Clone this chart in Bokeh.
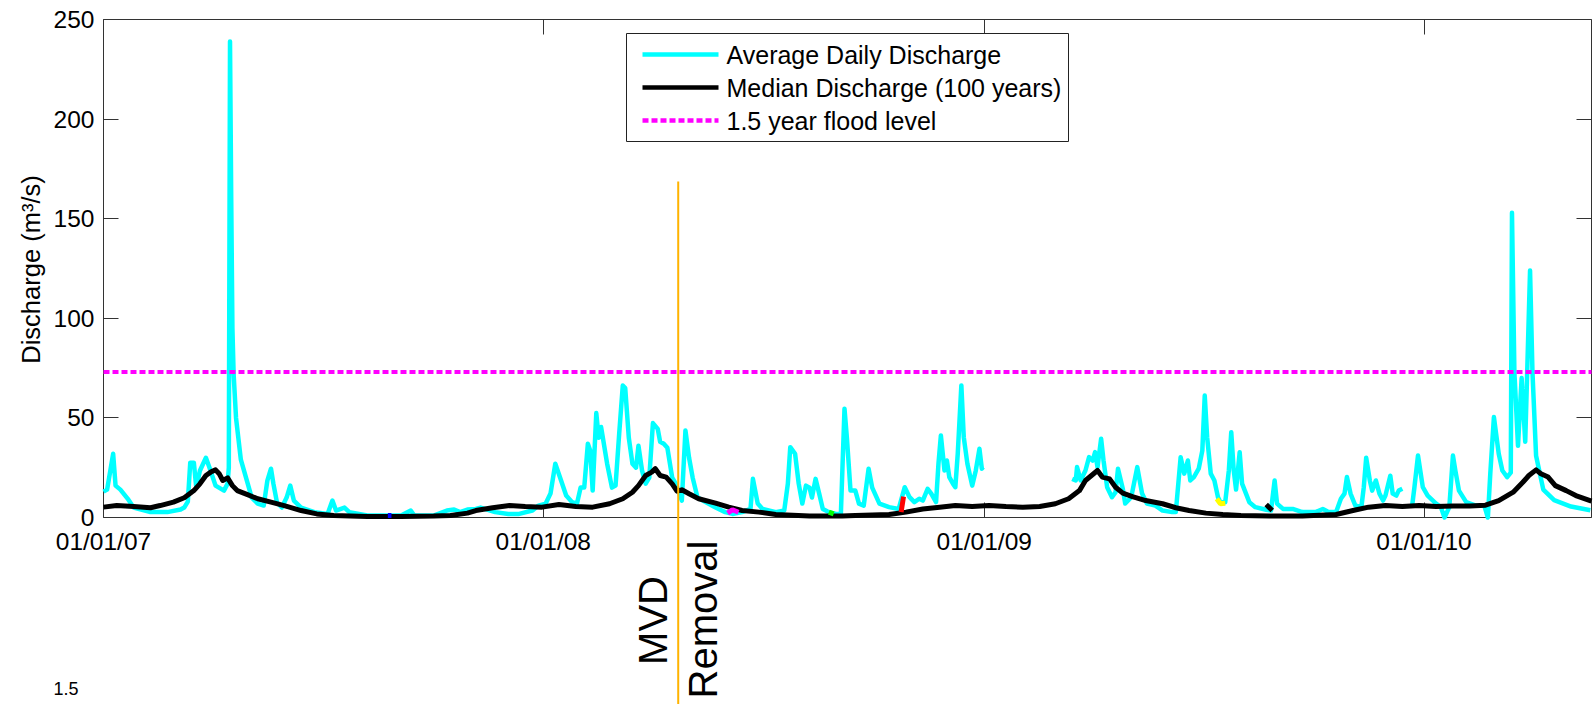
import math
import pandas as pd
from bokeh.plotting import figure
from bokeh.models import Range1d, FixedTicker, DatetimeTickFormatter, DatetimeAxis, LinearAxis
from bokeh.core.properties import value
from bokeh.embed import file_html
from bokeh.resources import INLINE

NAN = float("nan")

# ---------------- data ----------------
record_start = "2007-01-01"
record_end = "2010-05-20"
x_tick_dates = ["2007-01-01", "2008-01-01", "2009-01-01", "2010-01-01"]
y_ticks = [0, 50, 100, 150, 200, 250]
y_max = 250
flood_level = 73.0
removal_date = "2008-04-22"

# days since 2007-01-01, average daily discharge (m3/s)
cyan_day = [0, 3, 8, 10, 14, 20, 25, 39, 53, 64, 67, 70, 72, 75, 77, 80, 85, 88, 93, 100,
            103, 104, 105, 106, 107, 108, 110, 114, 119, 123, 128, 133, 136, 139, 141, 144, 148, 152, 155, 158,
            164, 175, 186, 190, 193, 200, 204, 219, 247, 255, 258, 274, 285, 291, 296, 302, 309, 313, 325, 336,
            345, 356, 361, 367, 371, 375, 379, 384, 389, 393, 396, 399, 402, 404, 406, 409, 411, 413, 418, 422,
            425, 428, 431, 433, 436, 439, 442, 444, 447, 450, 453, 456, 460, 462, 465, 468, 472, 475, 478, 480,
            483, 486, 489, 493, 500, 508, 516, 522, 530, 537, 539, 543, 547, 558, 565, 568, 570, 574, 577, 580,
            583, 586, 588, 591, 594, 597, 602, 608, 612, 615, 617, 620, 624, 627, 631, 635, 638, 644, 652, 660,
            665, 669, 673, 677, 680, 684, 687, 691, 693, 695, 698, 700, 702, 705, 707, 709, 712, 714, 717, 721,
            724, 727, 729, 730, 760, 804, 807, 808, 811, 815, 818, 821, 823, 825, 828, 830, 833, 837, 840, 842,
            846, 848, 853, 858, 862, 866, 873, 879, 887, 890, 894, 897, 900, 902, 905, 909, 912, 914, 916, 919,
            922, 925, 927, 931, 934, 936, 938, 940, 943, 945, 951, 956, 965, 969, 972, 974, 979, 987, 995, 1006,
            1012, 1017, 1023, 1027, 1030, 1032, 1035, 1039, 1044, 1046, 1048, 1051, 1053, 1056, 1059, 1062, 1064, 1068, 1070, 1073,
            1075, 1078, 1082, 1086, 1088, 1091, 1095, 1099, 1106, 1110, 1113, 1117, 1120, 1122, 1125, 1131, 1139, 1146, 1149, 1151,
            1154, 1158, 1161, 1165, 1168, 1169, 1171, 1174, 1177, 1180, 1184, 1186, 1189, 1195, 1204, 1218, 1234]
cyan_q = [13, 14, 32, 16, 14, 9.5, 5, 2.7, 2.7, 4, 5, 8, 27.5, 27.5, 15, 23.5, 30, 25, 16, 13.5,
          17, 25, 239, 160, 95, 72, 50, 29, 18.5, 10, 7, 6, 18.5, 24.5, 17, 7.5, 5, 10, 16, 8.5,
          5, 2.7, 1.8, 8.5, 3.5, 5, 2.7, 1, 1, 3.5, 1, 1, 3.5, 4, 2.7, 4, 4.3, 5, 2.7, 1.8,
          1.8, 3.5, 6, 7, 12, 27, 20, 11, 7.7, 7, 15, 15, 37, 33.5, 13.5, 52.4, 40, 45.4, 27, 15,
          16, 42, 66.3, 65, 40, 27, 25, 36, 23.5, 17, 20, 47.4, 44.5, 38, 37, 35, 20, 17, 12, 8.5,
          43.7, 30, 20, 10, 7.7, 5, 2.7, 1.8, 2.7, 4.3, 19.4, 7, 4.3, 2.7, 3.5, 17, 35.3, 32, 17, 7,
          16, 15, 10, 19.4, 12, 4.3, 2.7, 1.8, 1.8, 54.6, 40, 13.5, 13.5, 7, 6, 24.5, 15, 7, 5.2, 4.3,
          15.2, 10.2, 7.7, 9.4, 8.5, 14.4, 12, 7.7, 27, 41.2, 23.6, 28.6, 20.3, 17, 15.2, 32, 66.3, 40.3, 27, 16,
          23.6, 34.5, 24.5, 25.3, NAN, 19.4, 18.6, 25.3, 18.6, 23.6, 30.3, 28.6, 32.8, 25.3, 39.5, 28.6, 15.2, 10.2, 12.7, 24.5,
          14.4, 7, 10.2, 25.3, 12, 7, 6, 3.5, 2.7, 2.7, 30.3, 22, 28.6, 18.6, 20.3, 24.5, 33.6, 61.2, 40.3, 22,
          18.6, 10.2, 7.7, 7.7, 23.6, 42.8, 24, 14, 32.8, 17, 7.7, 5.2, 3.9, 3.5, 18.6, 7, 4.3, 4.3, 2.7, 2.7,
          4.3, 2.7, 2.7, 9.4, 12, 20.3, 12, 6, 5.2, 15.2, 30, 18.6, 13.5, 18.6, 12, 8.5, 11, 21, 12, 11,
          13.5, 14.4, NAN, 5.2, 15, 31.1, 15.2, 11, 7, 5.2, 0, 5.2, 31.1, 23.6, 13.5, 7.7, 6, 6, 0, 22,
          50.4, 32, 23.6, 20.3, 22.5, 153, 73, 36, 70, 38, 124, 73, 31, 14, 8.7, 5.5, 3.6]

# days since 2007-01-01, median discharge over 100 years (m3/s)
median_day = [0, 11, 25, 39, 47, 58, 67, 75, 80, 85, 89, 93, 96, 99, 103, 107, 111, 119, 128, 139,
              150, 164, 177, 191, 219, 247, 274, 288, 302, 309, 323, 337, 350, 364, 378, 392, 406, 420, 431, 439,
              444, 450, 455, 458, 462, 467, 472, 476, 480, 486, 494, 508, 519, 530, 544, 558, 586, 613, 624, 652,
              666, 680, 694, 707, 721, 735, 749, 763, 777, 790, 801, 810, 815, 821, 825, 829, 835, 840, 846, 854,
              865, 879, 890, 901, 915, 929, 944, 968, 995, 1023, 1037, 1050, 1064, 1078, 1092, 1106, 1120, 1134, 1147, 1158,
              1170, 1178, 1183, 1189, 1193, 1199, 1205, 1214, 1222, 1235]
median_q = [5.2, 6, 5.5, 4.9, 6, 7.7, 9.9, 13.5, 16.9, 21.1, 22.8, 23.9, 22, 18.6, 19.9, 16, 13.5, 11.6, 9.4, 7.7,
            6, 3.5, 1.8, 1, 0.5, 0.5, 0.7, 1, 2.2, 3.5, 4.9, 6, 5.5, 5.2, 6.5, 5.5, 5.2, 6.9, 9.4, 12.7,
            16, 21.1, 22.8, 24.5, 21.1, 20.3, 16.9, 13.2, 13.9, 11.9, 9.4, 7.2, 5.2, 3.5, 2.7, 1.5, 0.8, 0.7, 1, 1.5,
            2.7, 4.3, 5.2, 6, 5.5, 6, 5.5, 5.2, 5.5, 6.9, 9.4, 13.5, 18.6, 21.6, 23.6, 20.3, 19.4, 15.2, 12.2, 10.5,
            8.5, 6.9, 4.9, 3.5, 2.2, 1.5, 1, 0.7, 0.7, 1.5, 3.5, 5.2, 6, 5.5, 6, 5.5, 5.8, 5.8, 6.2, 8.5,
            12.7, 17.7, 21.1, 23.9, 22, 20.3, 16, 13.5, 11, 8.2]

# short coloured segments (days since 2007-01-01, m3/s)
blue_day, blue_q = [236, 239], [1.0, 1.0]
magenta_day, magenta_q = [518, 522, 527], [2.2, 3.9, 2.6]
green_day, green_q = [602, 606], [2.7, 1.8]
red_day, red_q = [662, 664], [2.7, 10.5]
yellow_day, yellow_q = [924, 927, 931], [9.4, 6.9, 7.2]
black_day, black_q = [965, 970], [6.5, 3.5]

assert len(cyan_day) == len(cyan_q)
assert len(median_day) == len(median_q)

# ---------------- geometry (page pixels) ----------------
FONT = "Liberation Sans"
W, H = 1593, 704
M = 0                                      # canvas origin on the page
BOX_L, BOX_R, BOX_T, BOX_B = 103, 1591, 19, 517

DAY = 86400000.0
def to_ms(s):
    return pd.Timestamp(s).value / 1e6

t0, t1 = to_ms(record_start), to_ms(record_end)
msp = (t1 - t0) / (BOX_R - BOX_L)
upp = y_max / (BOX_B - BOX_T)

def X(px):
    return t0 + (px - BOX_L) * msp

def Y(py):
    return (BOX_B - py) * upp

def days(ds):
    return [t0 + d * DAY for d in ds]

p = figure(width=W, height=H, x_axis_type="datetime",
           x_range=Range1d(X(M), X(M + W)), y_range=Range1d(Y(M + H), Y(M)),
           output_backend="svg", toolbar_location=None, min_border=0,
           background_fill_color="white", border_fill_color="white")
p.outline_line_color = None
p.grid.visible = False

xt = FixedTicker(ticks=[to_ms(d) for d in x_tick_dates])
yt = FixedTicker(ticks=y_ticks)
f = "%m/%d/%y"
fmt = DatetimeTickFormatter(microseconds=f, milliseconds=f, seconds=f, minsec=f, minutes=f,
                            hourmin=f, hours=f, days=f, months=f, years=f)

def style(ax, labels=True):
    ax.axis_line_color = None
    ax.major_tick_in = 15
    ax.major_tick_out = 0
    ax.major_tick_line_color = "#333333"
    ax.major_tick_line_width = 1
    ax.minor_tick_line_color = None
    ax.major_label_text_font = FONT
    ax.major_label_text_font_size = "24.5px"
    ax.major_label_text_color = "black" if labels else None
    ax.level = "underlay"

xa = p.xaxis[0]
xa.fixed_location = 0
xa.ticker = xt
xa.formatter = fmt
style(xa)
xa.major_label_standoff = 10

ya = p.yaxis[0]
ya.fixed_location = t0
ya.ticker = yt
style(ya)
ya.major_label_standoff = 9

top = DatetimeAxis(fixed_location=y_max, ticker=xt, formatter=fmt)
style(top, labels=False)
p.add_layout(top, "above")
right = LinearAxis(fixed_location=t1, ticker=yt)
style(right, labels=False)
p.add_layout(right, "right")

# axes box
p.quad(left=[t0], right=[t1], bottom=[0], top=[y_max], fill_color=None,
       line_color="#333333", line_width=1, level="underlay")

# series
p.line(days(cyan_day), cyan_q, color="#00FFFF", line_width=4.5, line_join="round")
p.line(days(median_day), median_q, color="black", line_width=5, line_join="round")
for dd, qq, col in [(blue_day, blue_q, "#0000FF"), (magenta_day, magenta_q, "#FF00FF"),
                    (green_day, green_q, "#00FF00"), (red_day, red_q, "#FF0000"),
                    (yellow_day, yellow_q, "#FFFF00"), (black_day, black_q, "black")]:
    p.line(days(dd), qq, color=col, line_width=5)
p.line([t0, t1], [flood_level, flood_level], color="#FF00FF", line_width=4, line_dash="6 3")

# removal marker
rem = to_ms(removal_date)
p.segment(x0=[rem], y0=[Y(181)], x1=[rem], y1=[Y(M + H + 5)], color="#FFB300", line_width=2)

def txt(x, y, s, size, align="left", baseline="middle", angle=0.0):
    p.text(x=[x], y=[y], text=[s], angle=angle, text_font=value(FONT),
           text_font_size=value(size), text_align=align, text_baseline=baseline,
           text_color="black")

txt(X(652), Y(620), "MVD", "40px", "center", "middle", math.pi / 2)
txt(X(702), Y(619), "Removal", "40px", "center", "middle", math.pi / 2)
txt(X(30), Y(269), "Discharge (m³/s)", "25.5px", "center", "middle", math.pi / 2)
txt(X(53), Y(694), "1.5", "18px", "left", "bottom")

# legend (drawn inside the axes box)
p.quad(left=[X(626)], right=[X(1068)], top=[Y(33)], bottom=[Y(141)],
       fill_color="white", line_color="#222222", line_width=1)
leg = [("Average Daily Discharge", "#00FFFF", None, 54),
       ("Median Discharge (100 years)", "black", None, 87),
       ("1.5 year flood level", "#FF00FF", "6 3", 120)]
for label, col, dash, ry in leg:
    kw = dict(line_dash=dash) if dash else {}
    p.line([X(642), X(718)], [Y(ry), Y(ry)], color=col, line_width=4.5, **kw)
    txt(X(726), Y(ry), label, "25px", "left", "middle")

open("out.html", "w").write(file_html(p, INLINE))
